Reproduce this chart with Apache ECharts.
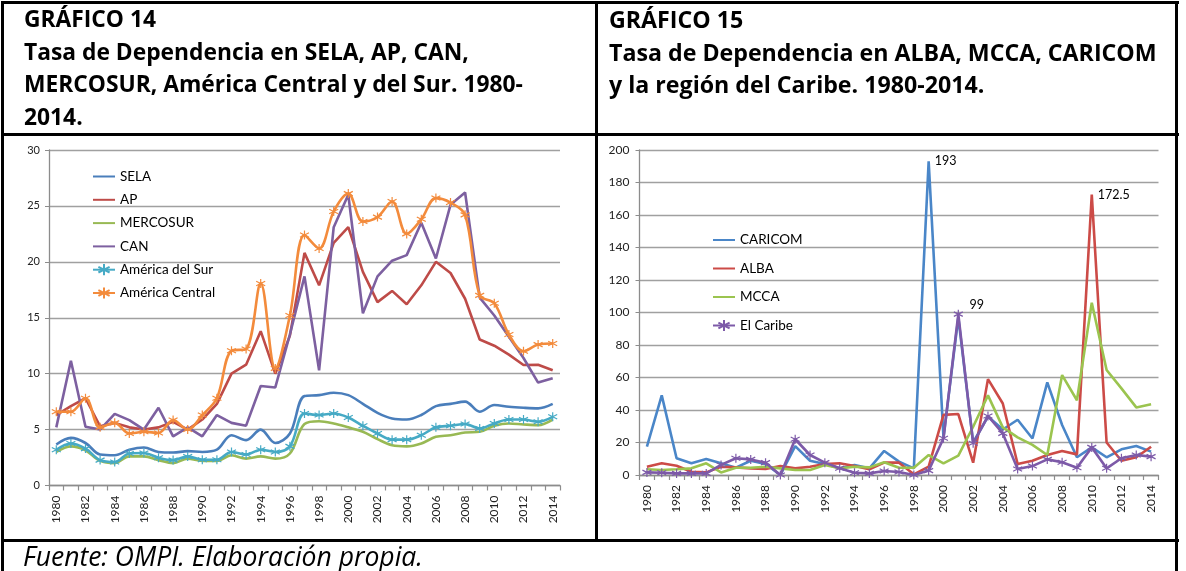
<!DOCTYPE html>
<html>
<head>
<meta charset="utf-8">
<script src="https://cdn.jsdelivr.net/npm/echarts@6/dist/echarts.min.js"></script>
<style>
  html,body{margin:0;padding:0;background:#fff;}
  body{width:1186px;height:571px;position:relative;overflow:hidden;}
  #chart{position:absolute;left:0;top:0;width:1186px;height:571px;}
  .ln{position:absolute;background:#000;}
  .hdr{position:absolute;font-family:"Open Sans","Noto Sans",sans-serif;font-weight:700;font-size:22.8px;line-height:32.5px;color:#000;white-space:nowrap;}
  .foot{position:absolute;font-family:"Open Sans","Noto Sans",sans-serif;font-style:italic;font-size:26.5px;line-height:30px;color:#000;white-space:nowrap;}
</style>
</head>
<body>
<div id="chart"></div>
<div class="ln" style="left:1px;top:1px;width:1178px;height:3px;"></div>
<div class="ln" style="left:1px;top:1px;width:3px;height:570px;"></div>
<div class="ln" style="left:1175px;top:1px;width:3px;height:570px;"></div>
<div class="ln" style="left:595px;top:1px;width:3px;height:540px;"></div>
<div class="ln" style="left:1px;top:133px;width:1178px;height:3px;"></div>
<div class="ln" style="left:1px;top:539px;width:1178px;height:3px;"></div>
<div class="hdr" style="left:24px;top:3px;">GRÁFICO 14<br>Tasa de Dependencia en SELA, AP, CAN,<br>MERCOSUR, América Central y del Sur. 1980-<br>2014.</div>
<div class="hdr" style="left:609px;top:3px;font-size:23.2px;">GRÁFICO 15<br>Tasa de Dependencia en ALBA, MCCA, CARICOM<br>y la región del Caribe. 1980-2014.</div>
<div class="foot" style="left:23px;top:541px;">Fuente: OMPI. Elaboración propia.</div>
<script>
const years = ['1980','1981','1982','1983','1984','1985','1986','1987','1988','1989','1990','1991','1992','1993','1994','1995','1996','1997','1998','1999','2000','2001','2002','2003','2004','2005','2006','2007','2008','2009','2010','2011','2012','2013','2014'];

// Gráfico 14
const sela = [3.67,4.26,3.8,2.77,2.7,3.2,3.4,3.0,2.95,3.07,3.0,3.2,4.5,4.06,5.0,3.8,4.65,8.0,8.08,8.3,8.08,7.3,6.5,6.0,5.9,6.3,7.1,7.3,7.5,6.6,7.2,7.04,6.95,6.9,7.3];
const ap = [6.3,7.1,7.8,5.3,5.6,5.2,5.0,5.2,5.7,5.0,5.9,7.3,10.0,10.8,13.8,10.0,13.4,20.8,17.9,21.7,23.1,19.1,16.4,17.4,16.2,17.9,20.0,19.0,16.7,13.06,12.5,11.7,10.77,10.8,10.3];
const mercosur = [3.0,3.5,3.15,2.2,2.0,2.6,2.6,2.27,2.0,2.4,2.2,2.2,2.7,2.4,2.6,2.4,2.86,5.5,5.75,5.55,5.2,4.8,4.15,3.6,3.5,3.76,4.35,4.5,4.74,4.8,5.34,5.55,5.46,5.4,5.9];
const can = [5.2,11.15,5.25,5.0,6.4,5.85,5.0,6.95,4.4,5.2,4.4,6.3,5.6,5.35,8.9,8.77,13.5,18.7,10.3,23.1,26.0,15.4,18.7,20.1,20.6,23.5,20.3,25.1,26.2,16.8,15.2,13.3,11.4,9.2,9.6];
const amSur = [3.2,3.76,3.3,2.27,2.1,2.86,2.9,2.48,2.27,2.6,2.3,2.3,3.0,2.77,3.2,3.0,3.5,6.44,6.3,6.44,6.08,5.34,4.65,4.1,4.1,4.5,5.2,5.34,5.5,5.1,5.55,5.9,5.9,5.7,6.14];
const amCentral = [6.6,6.6,7.8,5.2,5.6,4.65,4.8,4.7,5.85,5.0,6.3,7.8,12.05,12.2,18.07,10.47,15.2,22.4,21.2,24.5,26.1,23.6,24.0,25.4,22.5,23.8,25.7,25.3,24.2,17.0,16.3,13.5,12.0,12.6,12.7];

// Gráfico 15
const caricom = [17.4,49,10.3,7.2,9.8,7.2,4.5,8.8,6.8,0,17.8,8.8,6.8,4.1,6.2,4.1,14.8,8.2,4.1,193,23,97,20,36,28,34,22.5,57,30.8,10.9,17,10.9,15.8,17.8,14.4];
const alba = [5.1,7.2,5.7,2,1.6,5.1,4.7,4.1,3.7,5.5,4.1,5.1,6.8,7.2,5.5,3.5,7.6,7.6,0.4,5.1,37,37.5,7.6,59,44,6.8,8.8,12.3,14.8,12.7,172.5,20,8.8,10.9,17.4];
const mcca = [3.5,3.1,3.5,4.1,7.2,1.6,4.5,4.5,5.1,4.1,3.1,3.1,6.2,4.1,5.1,4.7,7.8,4.5,4.5,12.3,7.2,11.9,29.7,49,29.3,23.2,18.5,12.3,61.5,46,106,64.6,53.3,41.6,43.5];
const elCaribe = [1.6,1.4,1.0,1.0,1.0,6.2,10.3,9.6,7.6,0,22,12.3,7.6,4.1,1.4,1.0,2.5,1.8,0,2.7,22.6,99,19.5,36.3,25.6,3.7,5.5,9.6,7.8,4.5,17,4.1,10.3,12.3,11.3];

// labelled points: series -> year
const labelled = {CARICOM:'1999', ALBA:'2010', 'El Caribe':'2001'};

const STAR = 'path://M5,0L5,10M0.7,2.5L9.3,7.5M0.7,7.5L9.3,2.5';
const FONT = 'Lato, "Noto Sans", sans-serif';

function withLabel(name, arr, off){
  const idx = years.indexOf(labelled[name]);
  return arr.map((v,i)=> i===idx ? {value:v, label:{show:true, position:'right', distance:6, offset:off||[0,0], color:'#000', fontSize:12.5, fontFamily:FONT, formatter:'{c}'}} : v);
}

function lineSeries(name, data, color, gi, opts){
  opts = opts || {};
  return {
    name: name, type:'line', data: data,
    xAxisIndex: gi, yAxisIndex: gi,
    symbol: opts.star ? STAR : 'circle',
    symbolSize: opts.star ? 9 : 0,
    showSymbol: !!(opts.star || opts.labels),
    smooth: opts.smooth ? 0.35 : false,
    lineStyle:{color:color, width:2.6},
    itemStyle:{color:color, borderColor:color, borderWidth:1.2},
    emphasis:{disabled:true},
    animation:false
  };
}

const chart = echarts.init(document.getElementById('chart'), null, {renderer:'canvas'});

const axisLbl = {color:'#222', fontFamily:FONT};
function xAxis(gi){
  return {type:'category', gridIndex:gi, data:years, boundaryGap:true,
    axisLine:{lineStyle:{color:'#8c8c8c', width:1.3}},
    axisTick:{show:true, interval:0, length:5, lineStyle:{color:'#8c8c8c', width:1.2}},
    axisLabel:Object.assign({interval:1, rotate:90, fontSize:12, margin:10}, axisLbl),
    splitLine:{show:false}};
}
function yAxis(gi, max, interval, fs, margin){
  return {type:'value', gridIndex:gi, min:0, max:max, interval:interval,
    axisLine:{show:true, lineStyle:{color:'#8c8c8c', width:1.3}},
    axisTick:{show:true, length:4, inside:false, lineStyle:{color:'#8c8c8c'}},
    axisLabel:Object.assign({fontSize:fs, margin:margin}, axisLbl),
    splitLine:{show:true, lineStyle:{color:'#a0a0a0', width:1.4}}};
}

function legendItems(names, starred){
  return names.map(n => starred.indexOf(n) >= 0 ? {name:n} : {name:n, itemStyle:{opacity:0}});
}

chart.setOption({
  backgroundColor:'transparent',
  animation:false,
  grid:[
    {left:49, top:150, width:511, height:335.5},
    {left:639.5, top:150, width:519, height:325}
  ],
  xAxis:[xAxis(0), xAxis(1)],
  yAxis:[yAxis(0,30,5,11,9), yAxis(1,200,20,12,10)],
  legend:[
    {orient:'vertical', left:87, top:164.5, itemWidth:22, itemHeight:14, itemGap:9.3,
     data:legendItems(['SELA','AP','MERCOSUR','CAN','América del Sur','América Central'], ['América del Sur','América Central']),
     textStyle:{fontFamily:FONT, fontSize:13.5, color:'#000'}},
    {orient:'vertical', left:707, top:228, itemWidth:22, itemHeight:14, itemGap:14.5,
     data:legendItems(['CARICOM','ALBA','MCCA','El Caribe'], ['El Caribe']),
     textStyle:{fontFamily:FONT, fontSize:13.5, color:'#000'}}
  ],
  series:[
    lineSeries('SELA', sela, '#4a7ebb', 0, {smooth:true}),
    lineSeries('AP', ap, '#be4b48', 0, {}),
    lineSeries('MERCOSUR', mercosur, '#98b954', 0, {smooth:true}),
    lineSeries('CAN', can, '#7d60a0', 0, {}),
    lineSeries('América del Sur', amSur, '#46aac5', 0, {smooth:true, star:true}),
    lineSeries('América Central', amCentral, '#f38b3c', 0, {smooth:true, star:true}),
    lineSeries('CARICOM', withLabel('CARICOM', caricom, [0,0]), '#4a86c8', 1, {labels:true}),
    lineSeries('ALBA', withLabel('ALBA', alba, [0,0]), '#cc4b47', 1, {labels:true}),
    lineSeries('MCCA', mcca, '#9bc44f', 1, {}),
    lineSeries('El Caribe', withLabel('El Caribe', elCaribe, [0,-9]), '#7d5aa8', 1, {star:true})
  ]
});
</script>
</body>
</html>
